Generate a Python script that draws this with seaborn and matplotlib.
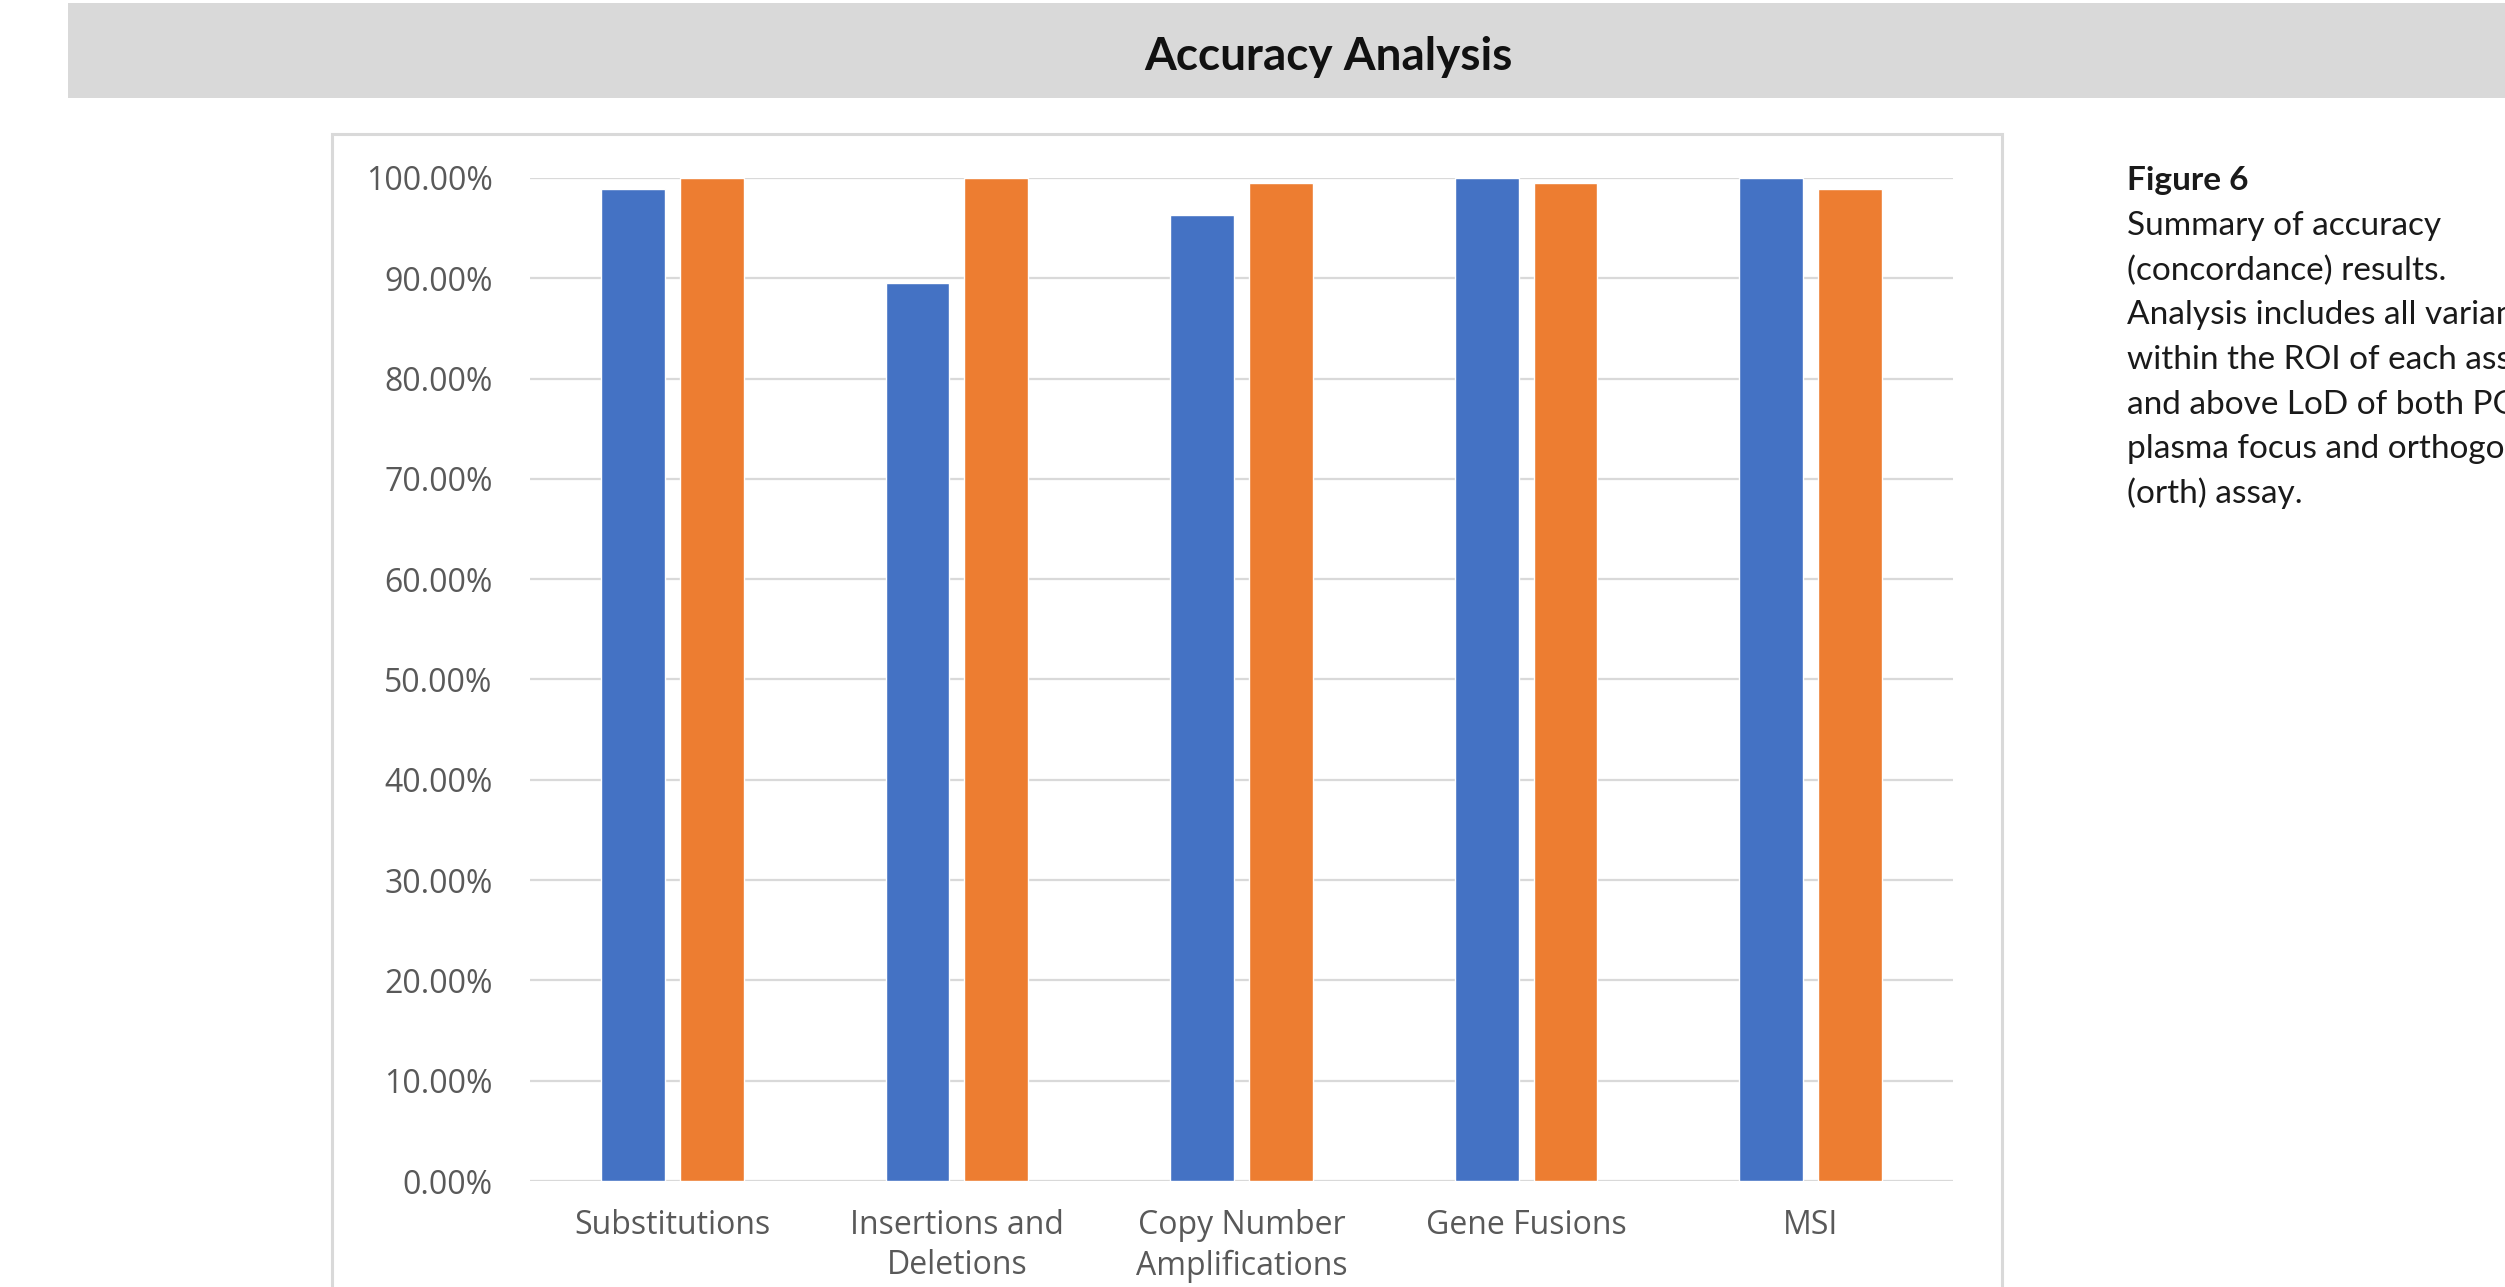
import matplotlib
matplotlib.use("Agg")
import matplotlib.pyplot as plt
from matplotlib.patches import Rectangle
from matplotlib.ticker import FuncFormatter, MultipleLocator
import seaborn as sns
import pandas as pd

# Concordance per variant class for the two assays
categories = ["Substitutions", "Insertions and\nDeletions", "Copy Number\nAmplifications",
              "Gene Fusions", "MSI"]
plasma_focus = [0.989, 0.895, 0.963, 1.000, 1.000]
orthogonal = [1.000, 1.000, 0.995, 0.995, 0.989]
series_names = ["plasma focus", "orth"]
series_colors = ["#4472C4", "#ED7D31"]

title = "Accuracy Analysis"
caption_head = "Figure 6"
caption_lines = [
    "Summary of accuracy",
    "(concordance) results.",
    "Analysis includes all variants",
    "within the ROI of each assay",
    "and above LoD of both PGDx elio",
    "plasma focus and orthogonal",
    "(orth) assay.",
]

df = pd.DataFrame({
    "category": categories * 2,
    "value": plasma_focus + orthogonal,
    "series": [series_names[0]] * len(categories) + [series_names[1]] * len(categories),
})

sns.set_theme(style="white")
plt.rcParams["font.family"] = ["Open Sans", "DejaVu Sans"]

W, H = 2505, 1287
fig = plt.figure(figsize=(W / 100, H / 100), dpi=100)

def fx(px):
    return px / W

def fy(py):
    return 1 - py / H

# Grey title band
fig.patches.append(Rectangle((fx(68), fy(98)), 1 - fx(68), fy(3) - fy(98),
                             transform=fig.transFigure, facecolor="#D9D9D9",
                             edgecolor="none", zorder=0))
fig.text(fx(1328), fy(70), title, ha="center", va="baseline",
         fontsize=33, fontweight="bold", family=["Lato", "DejaVu Sans"], color="#111111")

# Chart frame
fig.patches.append(Rectangle((fx(332), fy(1300)), fx(2002) - fx(332), fy(134) - fy(1300),
                             transform=fig.transFigure, facecolor="none",
                             edgecolor="#D9D9D9", linewidth=2.2, zorder=1))

ax = fig.add_axes([fx(530), fy(1181), fx(1953) - fx(530), fy(178) - fy(1181)])
sns.barplot(data=df, x="category", y="value", hue="series", order=categories,
            hue_order=series_names, palette=series_colors, width=0.554, gap=0.19,
            saturation=1, legend=False, ax=ax, errorbar=None)

ax.set_ylim(0, 1)
ax.set_xlim(-0.5, len(categories) - 0.5)
ax.yaxis.set_major_locator(MultipleLocator(0.1))
ax.yaxis.set_major_formatter(FuncFormatter(lambda v, _: f"{v * 100:.2f}%"))
ax.set_axisbelow(True)
ax.yaxis.grid(True, color="#D9D9D9", linewidth=1.6)
ax.xaxis.grid(False)
for s in ax.spines.values():
    s.set_visible(False)
ax.set_xlabel("")
ax.set_ylabel("")
ax.tick_params(axis="both", length=0, labelsize=23, labelcolor="#595959")
ax.tick_params(axis="y", pad=27)
ax.tick_params(axis="x", pad=20)
for lbl in ax.get_xticklabels():
    lbl.set_linespacing(1.3)

# Caption on the right
cap_family = ["Lato", "DejaVu Sans"]
fig.text(fx(2127), fy(190), caption_head, ha="left", va="baseline", fontsize=24,
         fontweight="bold", family=cap_family, color="#1a1a1a")
for i, line in enumerate(caption_lines):
    fig.text(fx(2127), fy(235 + 44.7 * i), line, ha="left", va="baseline",
             fontsize=24, family=cap_family, color="#1a1a1a")

fig.savefig("out.png", dpi=100, facecolor="white")
